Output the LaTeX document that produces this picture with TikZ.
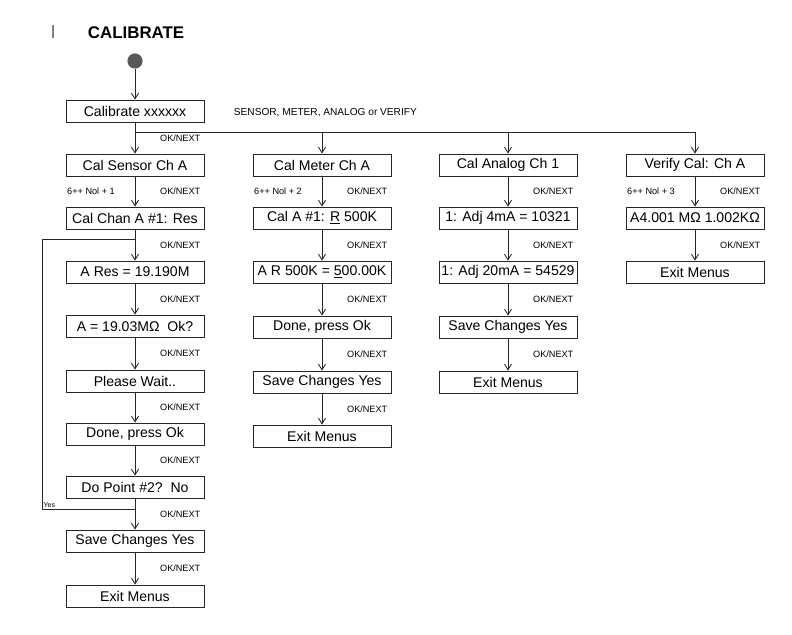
\documentclass[tikz,border=0pt]{standalone}
\usepackage{fontspec}
\setsansfont{Liberation Sans}
\usetikzlibrary{positioning, arrows.meta}

\begin{document}
\begin{tikzpicture}[
  x=0.025cm, y=-0.025cm,
  font=\sffamily,
  menubox/.style={draw=black!85, line width=0.6pt, minimum width=3.45cm,
    minimum height=0.55cm, inner sep=1pt, font=\sffamily\fontsize{10}{12}\selectfont},
  arrow/.style={-{Straight Barb[length=4pt,width=5pt]}, line width=0.6pt, draw=black!85},
  wire/.style={line width=0.6pt, draw=black!85},
  oknext/.style={midway, xshift=1.13cm, font=\sffamily\fontsize{6.5}{7}\selectfont},
  chnext/.style={midway, xshift=-1.1cm, font=\sffamily\fontsize{6.5}{7}\selectfont},
  ptitle/.style={font=\sffamily\bfseries\fontsize{12}{14}\selectfont},
  caplabel/.style={font=\sffamily\fontsize{7.2}{8}\selectfont},
]
\useasboundingbox (0,0) rectangle (792,635);

% ---- title and entry ----
\draw[draw=gray, line width=0.8pt] (53,25) -- (53,38);
\node[ptitle, anchor=west] (title) at (83,33) {CALIBRATE};
\node[circle, fill=black!65, minimum size=0.38cm, inner sep=0pt] (start) at (135,61) {};
\node[menubox] (cal) at (135,111) {Calibrate xxxxxx};
\draw[arrow] (start) -- (cal);
\node[caplabel, anchor=west] (pick) at (229,113) {SENSOR, METER, ANALOG or VERIFY};
\coordinate (split) at (135,132);

% ---- sensor column ----
\node[menubox] (sen1) at (135,165) {Cal Sensor Ch A};
\node[menubox] (sen2) at (135,218) {Cal Chan A \#1: Res};
\node[menubox] (sen3) at (135,272) {A Res = 19.190M};
\node[menubox] (sen4) at (135,326) {A = 19.03MΩ\ \ Ok?};
\node[menubox] (sen5) at (135,381) {Please Wait..};
\node[menubox] (sen6) at (135,434) {Done, press Ok};
\node[menubox] (sen7) at (135,487) {Do Point \#2?\ \ No};
\node[menubox] (sen8) at (135,541) {Save Changes Yes};
\node[menubox] (sen9) at (135,596) {Exit Menus};
\draw[arrow] (cal) -- node[oknext] {OK/NEXT} (sen1);
\draw[arrow] (sen1) -- node[chnext] {6++ Nol + 1} node[oknext] {OK/NEXT} (sen2);
\draw[arrow] (sen2) -- node[oknext] {OK/NEXT} (sen3);
\draw[arrow] (sen3) -- node[oknext] {OK/NEXT} (sen4);
\draw[arrow] (sen4) -- node[oknext] {OK/NEXT} (sen5);
\draw[arrow] (sen5) -- node[oknext] {OK/NEXT} (sen6);
\draw[arrow] (sen6) -- node[oknext] {OK/NEXT} (sen7);
\draw[arrow] (sen7) -- node[oknext] {OK/NEXT} (sen8);
\draw[arrow] (sen8) -- node[oknext] {OK/NEXT} (sen9);
% second point loops back
\coordinate (loopb) at (42,509);
\coordinate (loopt) at (42,239);
\draw[wire] (loopb -| sen7) -- (loopb) -- (loopt) -- (loopt -| sen2);
\node[font=\sffamily\fontsize{5}{6}\selectfont, anchor=south west, inner sep=1pt] (yes) at (loopb) {Yes};

% ---- meter column ----
\node[menubox] (met1) at (322,165) {Cal Meter Ch A};
\node[menubox] (met2) at (322,218) {Cal A \#1: \underline{R} 500K};
\node[menubox] (met3) at (322,272) {A R 500K = \underline{5}00.00K};
\node[menubox] (met4) at (322,327) {Done, press Ok};
\node[menubox] (met5) at (322,382) {Save Changes Yes};
\node[menubox] (met6) at (322,436) {Exit Menus};
\draw[arrow] (split -| met1) -- (met1);
\draw[arrow] (met1) -- node[chnext] {6++ Nol + 2} node[oknext] {OK/NEXT} (met2);
\draw[arrow] (met2) -- node[oknext] {OK/NEXT} (met3);
\draw[arrow] (met3) -- node[oknext] {OK/NEXT} (met4);
\draw[arrow] (met4) -- node[oknext] {OK/NEXT} (met5);
\draw[arrow] (met5) -- node[oknext] {OK/NEXT} (met6);

% ---- analog column ----
\node[menubox] (ana1) at (508,165) {Cal Analog Ch 1};
\node[menubox] (ana2) at (508,218) {1: Adj 4mA = 10321};
\node[menubox] (ana3) at (508,272) {1: Adj 20mA = 54529};
\node[menubox] (ana4) at (508,327) {Save Changes Yes};
\node[menubox] (ana5) at (508,382) {Exit Menus};
\draw[arrow] (split -| ana1) -- (ana1);
\draw[arrow] (ana1) -- node[oknext] {OK/NEXT} (ana2);
\draw[arrow] (ana2) -- node[oknext] {OK/NEXT} (ana3);
\draw[arrow] (ana3) -- node[oknext] {OK/NEXT} (ana4);
\draw[arrow] (ana4) -- node[oknext] {OK/NEXT} (ana5);

% ---- verify column ----
\node[menubox] (ver1) at (695,165) {Verify Cal: Ch A};
\node[menubox] (ver2) at (695,218) {A4.001 MΩ 1.002KΩ};
\node[menubox] (ver3) at (695,272) {Exit Menus};
\draw[arrow] (split -| ver1) -- (ver1);
\draw[arrow] (ver1) -- node[chnext] {6++ Nol + 3} node[oknext] {OK/NEXT} (ver2);
\draw[arrow] (ver2) -- node[oknext] {OK/NEXT} (ver3);

\draw[wire] (split) -- (split -| ver1);

\end{tikzpicture}
\end{document}
